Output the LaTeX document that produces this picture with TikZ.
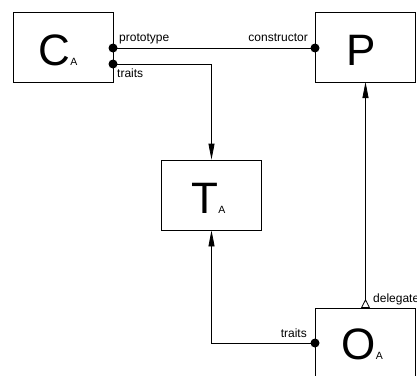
\documentclass[tikz,border=0pt]{standalone}
\usepackage{fontspec}
\setmainfont{Liberation Sans}
\usetikzlibrary{arrows.meta}
\tikzset{
  box/.style={draw, line width=0.8pt, minimum width=100pt, minimum height=70pt, inner sep=0pt},
  big/.style={inner sep=0pt, font=\fontsize{44}{44}\selectfont},
  sub/.style={inner sep=0pt, font=\fontsize{10.5}{11}\selectfont},
  lbl/.style={inner sep=0pt, font=\fontsize{12}{13}\selectfont},
  conn/.style={line width=0.8pt},
  dot/.style={circle, fill=black, inner sep=0pt, minimum size=9pt},
  tipf/.style={-{Triangle[length=16pt,width=6pt]}},
}
\begin{document}
\begin{tikzpicture}[x=1pt,y=-1pt]
\useasboundingbox (0,0) rectangle (417,375);
\begin{scope}
\clip (0,0) rectangle (417,375);
% boxes
\node[box] (C) at (63,47) {};
\node[box] (P) at (365.5,47) {};
\node[box] (T) at (211.5,195) {};
\node[box] (O) at (365.5,343) {};
% letters
\node[big, anchor=base west] (Cl) at (38,65) {C};
\node[sub, anchor=base west] (Cs) at (Cl.base east) {A};
\node[big, anchor=base west] (Pl) at (346.5,65) {P};
\node[big, anchor=base west] (Tl) at (191,213) {T};
\node[sub, anchor=base west] (Ts) at (Tl.base east) {A};
\node[big, anchor=base west] (Ol) at (341,359) {O};
\node[sub, anchor=base west] (Os) at (Ol.base east) {A};
% connection points
\coordinate (cp) at (113,48);
\coordinate (ct) at (113,64);
\coordinate (pc) at (315,48);
\coordinate (ot) at (315,343);
\coordinate (tc) at (211.5,64);
\coordinate (to) at (211.5,343);
\coordinate (od) at (365.5,308);
\coordinate (pd) at (365.5,82);
% connectors
\draw[conn] (cp) -- (pc);
\draw[conn, tipf] (ct) -- (tc) -- (T.north);
\draw[conn, tipf] (ot) -- (to) -- (T.south);
\draw[conn, {Triangle[open,reversed,length=9pt,width=9pt,line width=0.8pt]}-{Triangle[length=16pt,width=6pt]}] (od) -- (pd);
\node[dot] (d1) at (cp) {};
\node[dot] (d2) at (ct) {};
\node[dot] (d3) at (pc) {};
\node[dot] (d4) at (ot) {};
% labels
\node[lbl, anchor=base west] (l1) at (119,41) {prototype};
\node[lbl, anchor=base west] (l2) at (117,77) {traits};
\node[lbl, anchor=base east] (l3) at (308,41) {constructor};
\node[lbl, anchor=base west] (l4) at (373,302) {delegate};
\node[lbl, anchor=base east] (l5) at (307,337) {traits};
\end{scope}
\end{tikzpicture}
\end{document}
